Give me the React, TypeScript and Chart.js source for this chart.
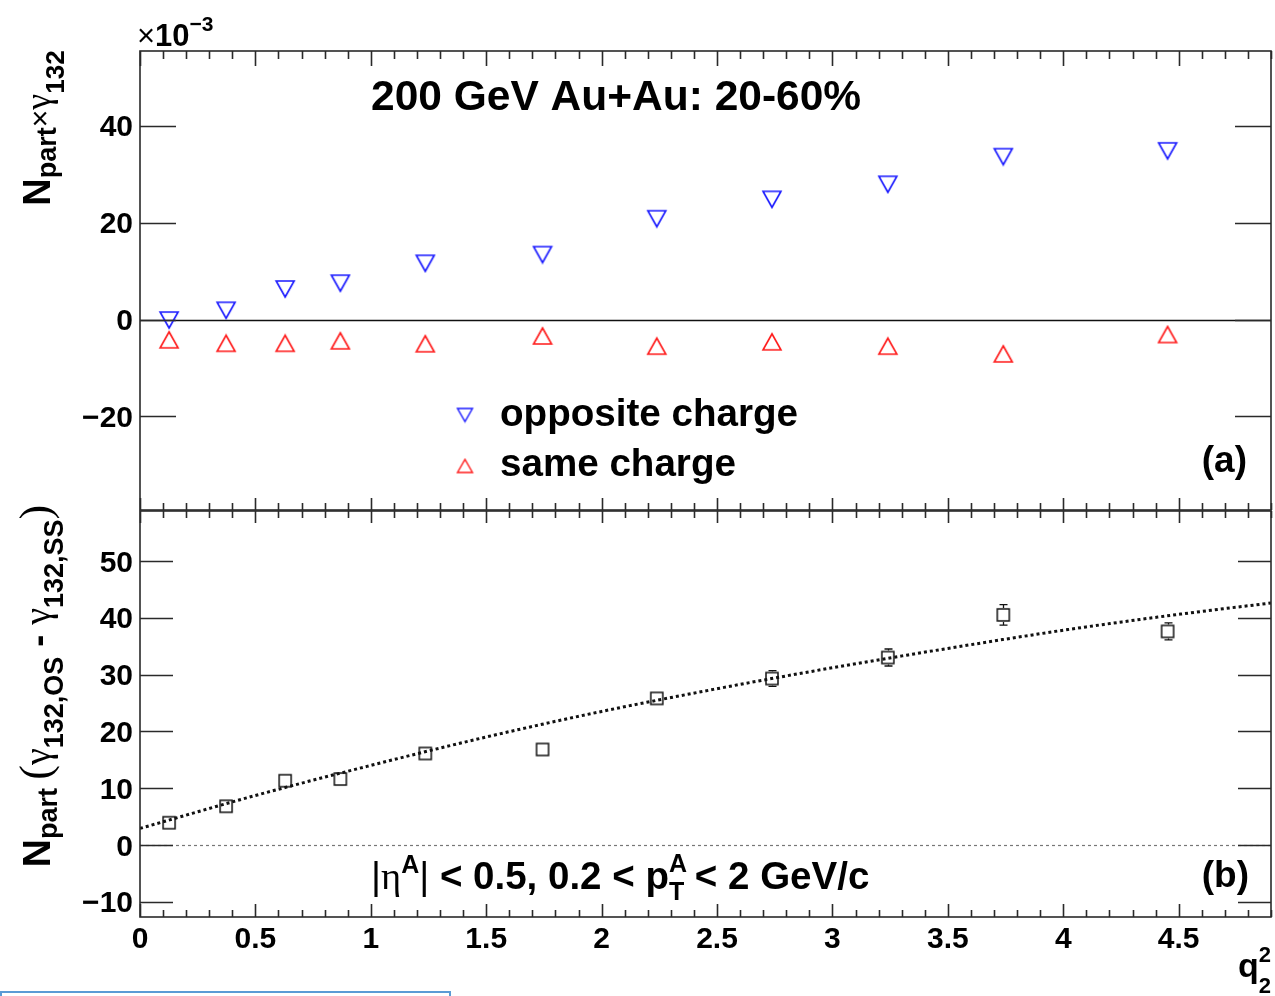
import React, { useEffect, useRef } from "react";
import { Chart, registerables } from "chart.js";

Chart.register(...registerables);

// q2^2 bin centres
const q2Centers = [0.126, 0.373, 0.629, 0.868, 1.236, 1.744, 2.239, 2.738, 3.24, 3.74, 4.452];
// N_part x gamma_132 (in units of 1e-3)
const gammaOpposite = [-0.1, 1.9, 6.3, 7.5, 11.6, 13.4, 20.8, 24.8, 27.9, 33.6, 34.8];
const gammaSame = [-4.2, -4.9, -4.9, -4.4, -5.0, -3.4, -5.5, -4.6, -5.5, -7.1, -3.1];
// N_part (gamma_132,OS - gamma_132,SS)
const gammaDiff = [3.9, 6.8, 11.3, 11.6, 16.1, 16.8, 25.8, 29.3, 33.0, 40.5, 37.6];
const gammaDiffErr = [0.6, 0.7, 0.8, 0.8, 0.9, 1.0, 1.2, 1.4, 1.5, 1.8, 1.5];
// fitted curve through the difference
const fitQ2 = [0, 0.5, 1, 1.5, 2, 2.5, 3, 3.5, 4, 4.5, 4.9];
const fitDiff = [2.9, 8.7, 14.0, 19.0, 23.5, 27.5, 31.2, 34.6, 37.8, 40.6, 42.6];

// axis ticks
const xTickValues = [0, 0.5, 1, 1.5, 2, 2.5, 3, 3.5, 4, 4.5];
const xTickLabels = ["0", "0.5", "1", "1.5", "2", "2.5", "3", "3.5", "4", "4.5"];
const topYTicks = [-20, 0, 20, 40];
const topYLabels = ["\u221220", "0", "20", "40"];
const bottomYTicks = [-10, 0, 10, 20, 30, 40, 50];
const bottomYLabels = ["\u221210", "0", "10", "20", "30", "40", "50"];

const X_MIN = 0;
const X_MAX = 4.9;
const TOP_Y = [-39.3, 55.4];
const BOTTOM_Y = [-12.7, 58.8];

const W = 1275;
const TOP_H = 515;
const BOTTOM_TOP = 505;
const BOTTOM_H = 996 - BOTTOM_TOP;

const SANS = '"Liberation Sans", Arial, Helvetica, sans-serif';
const SERIF = '"Liberation Serif", "DejaVu Serif", serif';

type Seg = { t: string; px: number; w?: string; fam?: string; dy?: number; keep?: boolean };

function segFont(s: Seg) {
  return `${s.w ?? "bold"} ${s.px}px ${s.fam ?? SANS}`;
}

function drawRich(ctx: CanvasRenderingContext2D, segs: Seg[], x: number, y: number, align: "left" | "right" | "center") {
  let total = 0;
  for (const s of segs) {
    ctx.font = segFont(s);
    if (!s.keep) total += ctx.measureText(s.t).width;
  }
  let cx = align === "left" ? x : align === "right" ? x - total : x - total / 2;
  ctx.textAlign = "left";
  ctx.textBaseline = "alphabetic";
  for (const s of segs) {
    ctx.font = segFont(s);
    ctx.fillText(s.t, cx, y + (s.dy ?? 0));
    if (!s.keep) cx += ctx.measureText(s.t).width;
  }
}

function marker(kind: "down" | "up" | "square", color: string, w: number, h: number, lw = 1.6) {
  const c = document.createElement("canvas");
  const pad = 2;
  c.width = w + pad * 2;
  c.height = h + pad * 2;
  const g = c.getContext("2d")!;
  g.strokeStyle = color;
  g.lineWidth = lw;
  g.beginPath();
  if (kind === "down") {
    g.moveTo(pad, pad);
    g.lineTo(pad + w, pad);
    g.lineTo(pad + w / 2, pad + h);
    g.closePath();
  } else if (kind === "up") {
    g.moveTo(pad, pad + h);
    g.lineTo(pad + w, pad + h);
    g.lineTo(pad + w / 2, pad);
    g.closePath();
  } else {
    g.rect(pad, pad, w, h);
  }
  g.stroke();
  return c;
}

type Axes = { x: any; y: any; area: { left: number; right: number; top: number; bottom: number } };

function getAxes(chart: any): Axes {
  return { x: chart.scales.x, y: chart.scales.y, area: chart.chartArea };
}

function drawFrameAndTicks(
  ctx: CanvasRenderingContext2D,
  a: Axes,
  yTicks: number[],
  yLen: number,
  xTopLen: [number, number],
  xBotLen: [number, number]
) {
  const { x, y, area } = a;
  ctx.save();
  ctx.strokeStyle = "#2a2a2a";
  ctx.lineWidth = 1.6;
  ctx.strokeRect(area.left, area.top, area.right - area.left, area.bottom - area.top);
  ctx.beginPath();
  for (let i = 0; i <= 49; i++) {
    const v = i / 10;
    const px = Math.round(x.getPixelForValue(v)) + 0.5;
    const major = i % 5 === 0;
    const lt = major ? xTopLen[0] : xTopLen[1];
    const lb = major ? xBotLen[0] : xBotLen[1];
    ctx.moveTo(px, area.top);
    ctx.lineTo(px, area.top + lt);
    ctx.moveTo(px, area.bottom);
    ctx.lineTo(px, area.bottom - lb);
  }
  for (const t of yTicks) {
    const py = Math.round(y.getPixelForValue(t)) + 0.5;
    ctx.moveTo(area.left, py);
    ctx.lineTo(area.left + yLen, py);
    ctx.moveTo(area.right, py);
    ctx.lineTo(area.right - yLen, py);
  }
  ctx.stroke();
  ctx.restore();
}

function drawYLabels(ctx: CanvasRenderingContext2D, a: Axes, ticks: number[], labels: string[]) {
  ctx.save();
  ctx.fillStyle = "#000";
  ctx.font = `bold 30px ${SANS}`;
  ctx.textAlign = "right";
  ctx.textBaseline = "alphabetic";
  ticks.forEach((t, i) => {
    const py = a.y.getPixelForValue(t);
    ctx.fillText(labels[i], a.area.left - 7, py + 30 * 0.358);
  });
  ctx.restore();
}

const topPlugin = {
  id: "topPanel",
  beforeDatasetsDraw(chart: any) {
    const ctx: CanvasRenderingContext2D = chart.ctx;
    const a = getAxes(chart);
    const py = Math.round(a.y.getPixelForValue(0)) + 0.5;
    ctx.save();
    ctx.strokeStyle = "#111";
    ctx.lineWidth = 1.6;
    ctx.beginPath();
    ctx.moveTo(a.area.left, py);
    ctx.lineTo(a.area.right, py);
    ctx.stroke();
    ctx.restore();
  },
  afterDraw(chart: any) {
    const ctx: CanvasRenderingContext2D = chart.ctx;
    const a = getAxes(chart);
    drawFrameAndTicks(ctx, a, topYTicks, 36, [15, 8], [12, 7]);
    drawYLabels(ctx, a, topYTicks, topYLabels);
    ctx.save();
    ctx.fillStyle = "#000";
    // exponent of the y axis
    drawRich(
      ctx,
      [
        { t: "\u00d7", px: 31, w: "normal" },
        { t: "10", px: 31 },
        { t: "\u22123", px: 21, dy: -15 },
      ],
      137,
      46,
      "left"
    );
    // header
    drawRich(ctx, [{ t: "200 GeV Au+Au: 20-60%", px: 42.5 }], 371, 110, "left");
    // legend
    const down = marker("down", "#1a1aff", 15, 13, 1.4);
    const up = marker("up", "#ff1a1a", 15, 13, 1.4);
    ctx.drawImage(down, 465 - down.width / 2, 415 - down.height / 2);
    ctx.drawImage(up, 465 - up.width / 2, 466 - up.height / 2);
    drawRich(ctx, [{ t: "opposite charge", px: 38.6 }], 500, 426, "left");
    drawRich(ctx, [{ t: "same charge", px: 38.6 }], 500, 476, "left");
    drawRich(ctx, [{ t: "(a)", px: 37 }], 1247, 472, "right");
    // y title
    ctx.translate(50, 128);
    ctx.rotate(-Math.PI / 2);
    drawRich(
      ctx,
      [
        { t: "N", px: 38 },
        { t: "part", px: 27, dy: 6 },
        { t: "\u00d7", px: 30, w: "normal" },
        { t: "\u03b3", px: 36, w: "normal", fam: SERIF },
        { t: "132", px: 26, dy: 14 },
      ],
      0,
      0,
      "center"
    );
    ctx.restore();
  },
};

const bottomPlugin = {
  id: "bottomPanel",
  beforeDatasetsDraw(chart: any) {
    const ctx: CanvasRenderingContext2D = chart.ctx;
    const a = getAxes(chart);
    const py = Math.round(a.y.getPixelForValue(0)) + 0.5;
    ctx.save();
    ctx.strokeStyle = "#777";
    ctx.lineWidth = 1.2;
    ctx.setLineDash([3, 3]);
    ctx.beginPath();
    ctx.moveTo(a.area.left, py);
    ctx.lineTo(a.area.right, py);
    ctx.stroke();
    ctx.restore();
  },
  afterDatasetsDraw(chart: any) {
    const ctx: CanvasRenderingContext2D = chart.ctx;
    const a = getAxes(chart);
    ctx.save();
    ctx.strokeStyle = "#111";
    ctx.lineWidth = 1.3;
    ctx.beginPath();
    q2Centers.forEach((q, i) => {
      const px = Math.round(a.x.getPixelForValue(q)) + 0.5;
      const pc = a.y.getPixelForValue(gammaDiff[i]);
      const pt = a.y.getPixelForValue(gammaDiff[i] + gammaDiffErr[i]);
      const pb = a.y.getPixelForValue(gammaDiff[i] - gammaDiffErr[i]);
      const half = 7;
      if (pc - pt > half) {
        ctx.moveTo(px, pc - half);
        ctx.lineTo(px, pt);
        ctx.moveTo(px - 4, pt);
        ctx.lineTo(px + 4, pt);
      }
      if (pb - pc > half) {
        ctx.moveTo(px, pc + half);
        ctx.lineTo(px, pb);
        ctx.moveTo(px - 4, pb);
        ctx.lineTo(px + 4, pb);
      }
    });
    ctx.stroke();
    ctx.restore();
  },
  afterDraw(chart: any) {
    const ctx: CanvasRenderingContext2D = chart.ctx;
    const a = getAxes(chart);
    drawFrameAndTicks(ctx, a, bottomYTicks, 33, [12, 7], [13, 7]);
    drawYLabels(ctx, a, bottomYTicks, bottomYLabels);
    ctx.save();
    ctx.fillStyle = "#000";
    ctx.font = `bold 30px ${SANS}`;
    ctx.textAlign = "center";
    ctx.textBaseline = "alphabetic";
    xTickValues.forEach((v, i) => {
      ctx.fillText(xTickLabels[i], a.x.getPixelForValue(v), 948 - BOTTOM_TOP);
    });
    // kinematic selection
    drawRich(
      ctx,
      [
        { t: "|", px: 38.5, w: "normal" },
        { t: "\u03b7", px: 38.5, w: "normal", fam: SERIF },
        { t: "A", px: 25, dy: -16 },
        { t: "|", px: 38.5, w: "normal" },
        { t: " < 0.5, 0.2 < p", px: 38.5 },
        { t: "A", px: 25, dy: -17, keep: true },
        { t: "T", px: 25, dy: 11 },
        { t: " < 2 GeV/c", px: 38.5 },
      ],
      371,
      889 - BOTTOM_TOP,
      "left"
    );
    drawRich(ctx, [{ t: "(b)", px: 37 }], 1249, 887 - BOTTOM_TOP, "right");
    // x title
    drawRich(
      ctx,
      [
        { t: "q", px: 34 },
        { t: "2", px: 22, dy: -15, keep: true },
        { t: "2", px: 22, dy: 16 },
      ],
      1271,
      977 - BOTTOM_TOP,
      "right"
    );
    // y title
    ctx.translate(50, 686 - BOTTOM_TOP);
    ctx.rotate(-Math.PI / 2);
    drawRich(
      ctx,
      [
        { t: "N", px: 39 },
        { t: "part", px: 27, dy: 7 },
        { t: " ", px: 30 },
        { t: "(", px: 44, w: "normal", fam: SERIF },
        { t: "\u03b3", px: 38, w: "normal", fam: SERIF },
        { t: "132,OS", px: 27, dy: 13 },
        { t: " - ", px: 36 },
        { t: "\u03b3", px: 38, w: "normal", fam: SERIF },
        { t: "132,SS", px: 27, dy: 13 },
        { t: ")", px: 44, w: "normal", fam: SERIF },
      ],
      0,
      0,
      "center"
    );
    ctx.restore();
  },
};

function pts(xs: number[], ys: number[]) {
  return xs.map((x, i) => ({ x, y: ys[i] }));
}

export default function App() {
  const topRef = useRef<HTMLCanvasElement>(null);
  const botRef = useRef<HTMLCanvasElement>(null);

  useEffect(() => {
    document.body.style.margin = "0";
    const downTri = marker("down", "#1a1aff", 18, 16);
    const upTri = marker("up", "#ff1a1a", 18, 16);
    const openSquare = marker("square", "#111", 12, 12, 1.5);

    const common = (padding: any, yr: number[]) => ({
      responsive: false,
      animation: false as const,
      events: [] as any[],
      layout: { padding, autoPadding: false },
      plugins: { legend: { display: false }, tooltip: { enabled: false } },
      scales: {
        x: { type: "linear" as const, min: X_MIN, max: X_MAX, display: false },
        y: { type: "linear" as const, min: yr[0], max: yr[1], display: false },
      },
    });

    const top = new Chart(topRef.current!, {
      type: "scatter",
      data: {
        datasets: [
          {
            label: "opposite charge",
            data: pts(q2Centers, gammaOpposite),
            pointStyle: downTri as any,
            pointRadius: 9,
          },
          {
            label: "same charge",
            data: pts(q2Centers, gammaSame),
            pointStyle: upTri as any,
            pointRadius: 9,
          },
        ],
      },
      options: common({ left: 140, right: 4, top: 51, bottom: 5 }, TOP_Y) as any,
      plugins: [topPlugin],
    });

    const bottom = new Chart(botRef.current!, {
      type: "scatter",
      data: {
        datasets: [
          {
            label: "fit",
            data: pts(fitQ2, fitDiff),
            showLine: true,
            pointRadius: 0,
            borderColor: "#111",
            borderWidth: 3,
            borderDash: [3, 3],
            cubicInterpolationMode: "monotone",
            fill: false,
          } as any,
          {
            label: "OS - SS",
            data: pts(q2Centers, gammaDiff),
            pointStyle: openSquare as any,
            pointRadius: 8,
          },
        ],
      },
      options: common({ left: 140, right: 4, top: 6, bottom: 79 }, BOTTOM_Y) as any,
      plugins: [bottomPlugin],
    });

    return () => {
      top.destroy();
      bottom.destroy();
    };
  }, []);

  return (
    <div style={{ position: "relative", width: W, height: 996, background: "#fff", overflow: "hidden" }}>
      <canvas
        ref={topRef}
        width={W}
        height={TOP_H}
        style={{ position: "absolute", left: 0, top: 0, width: W, height: TOP_H }}
      />
      <canvas
        ref={botRef}
        width={W}
        height={BOTTOM_H}
        style={{ position: "absolute", left: 0, top: BOTTOM_TOP, width: W, height: BOTTOM_H }}
      />
      <div
        style={{
          position: "absolute",
          left: 0,
          top: 991,
          width: 451,
          height: 12,
          boxSizing: "border-box",
          border: "2px solid #5b9bd5",
        }}
      />
    </div>
  );
}
